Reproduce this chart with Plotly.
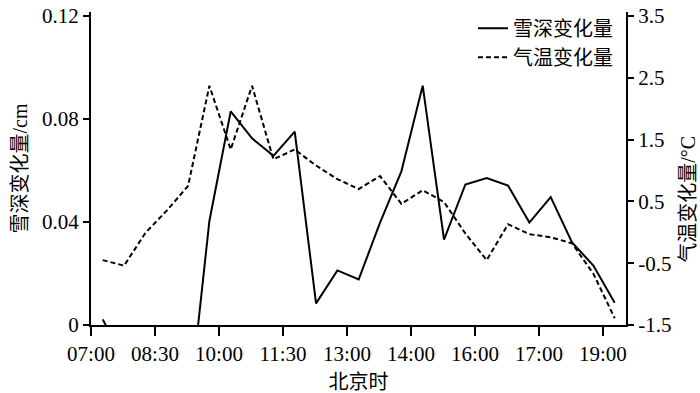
import numpy as np
import plotly.graph_objects as go

# tick labels on the time axis
time_labels = ["07:00", "08:30", "10:00", "11:30", "13:00", "14:00", "16:00", "17:00", "19:00"]
# sample index (25 observations, 3 per labelled interval)
sample_idx = list(range(25))

# snow depth change (cm); early values fall below zero and are clipped by the axis
snow_change = [0.0022, -0.013, -0.030, -0.035, -0.036, 0.0404, 0.0830, 0.0725, 0.0657, 0.0751,
               0.0084, 0.0212, 0.0177, 0.0398, 0.0597, 0.0930, 0.0332, 0.0546, 0.0571, 0.0542,
               0.0398, 0.0497, 0.0321, 0.0231, 0.0086]
# air temperature change (°C)
temp_change = [-0.45, -0.54, -0.01, 0.35, 0.75, 2.37, 1.34, 2.37, 1.18, 1.34,
               1.08, 0.86, 0.70, 0.91, 0.46, 0.68, 0.49, -0.02, -0.45, 0.13,
               -0.03, -0.08, -0.18, -0.67, -1.39]

left_ticks = [0, 0.04, 0.08, 0.12]
left_text = ["0", "0.04", "0.08", "0.12"]
right_ticks = [-1.5, -0.5, 0.5, 1.5, 2.5, 3.5]
right_text = ["-1.5", "-0.5", "0.5", "1.5", "2.5", "3.5"]

FONT = "Liberation Serif, Noto Sans CJK SC"

x = np.array(sample_idx) + 0.55
tick_pos = [3 * i for i in range(len(time_labels))]

fig = go.Figure()
fig.add_trace(go.Scatter(x=x, y=snow_change, mode="lines", name="雪深变化量",
                         line=dict(color="black", width=2), yaxis="y"))
fig.add_trace(go.Scatter(x=x, y=temp_change, mode="lines", name="气温变化量",
                         line=dict(color="black", width=2, dash="5px,3px"), yaxis="y2"))

axis_common = dict(showline=True, linecolor="black", linewidth=2, ticks="outside",
                   tickcolor="black", tickwidth=2, showgrid=False, zeroline=False,
                   automargin=False, ticklabeloverflow="allow",
                   tickfont=dict(family=FONT, size=21, color="black"))

fig.update_layout(
    width=700, height=393,
    margin=dict(l=91, r=74, t=9, b=68),
    paper_bgcolor="white", plot_bgcolor="white",
    font=dict(family=FONT, size=20, color="black"),
    showlegend=True,
    legend=dict(x=0.714, y=1.01, xanchor="left", yanchor="top", bgcolor="rgba(0,0,0,0)",
                font=dict(family=FONT, size=20, color="black"), tracegroupgap=0),
    xaxis=dict(range=[0, 25.08], tickmode="array", tickvals=tick_pos, ticktext=time_labels,
               ticklen=9, title=dict(text="北京时", font=dict(family=FONT, size=20), standoff=13),
               **axis_common),
    yaxis=dict(range=[0, 0.1216], tickmode="array", tickvals=left_ticks, ticktext=left_text,
               ticklen=6, title=dict(text="雪深变化量/cm", font=dict(family=FONT, size=20), standoff=9),
               **axis_common),
    yaxis2=dict(range=[-1.5, 3.564], tickmode="array", tickvals=right_ticks, ticktext=right_text,
                ticklen=6, overlaying="y", side="right", **axis_common),
    annotations=[dict(text="气温变化量/°C", x=1.0, xref="paper", xanchor="center", xshift=62,
                      y=0.40, yref="paper", yanchor="middle",
                      textangle=-90, showarrow=False, font=dict(family=FONT, size=20, color="black"))],
)

# remove the browser's default 8px body margin so the figure fills the window exactly
fig.write_html("out.html", config={"displayModeBar": False},
               post_script="document.body.style.margin='0';document.body.style.overflow='hidden';")
